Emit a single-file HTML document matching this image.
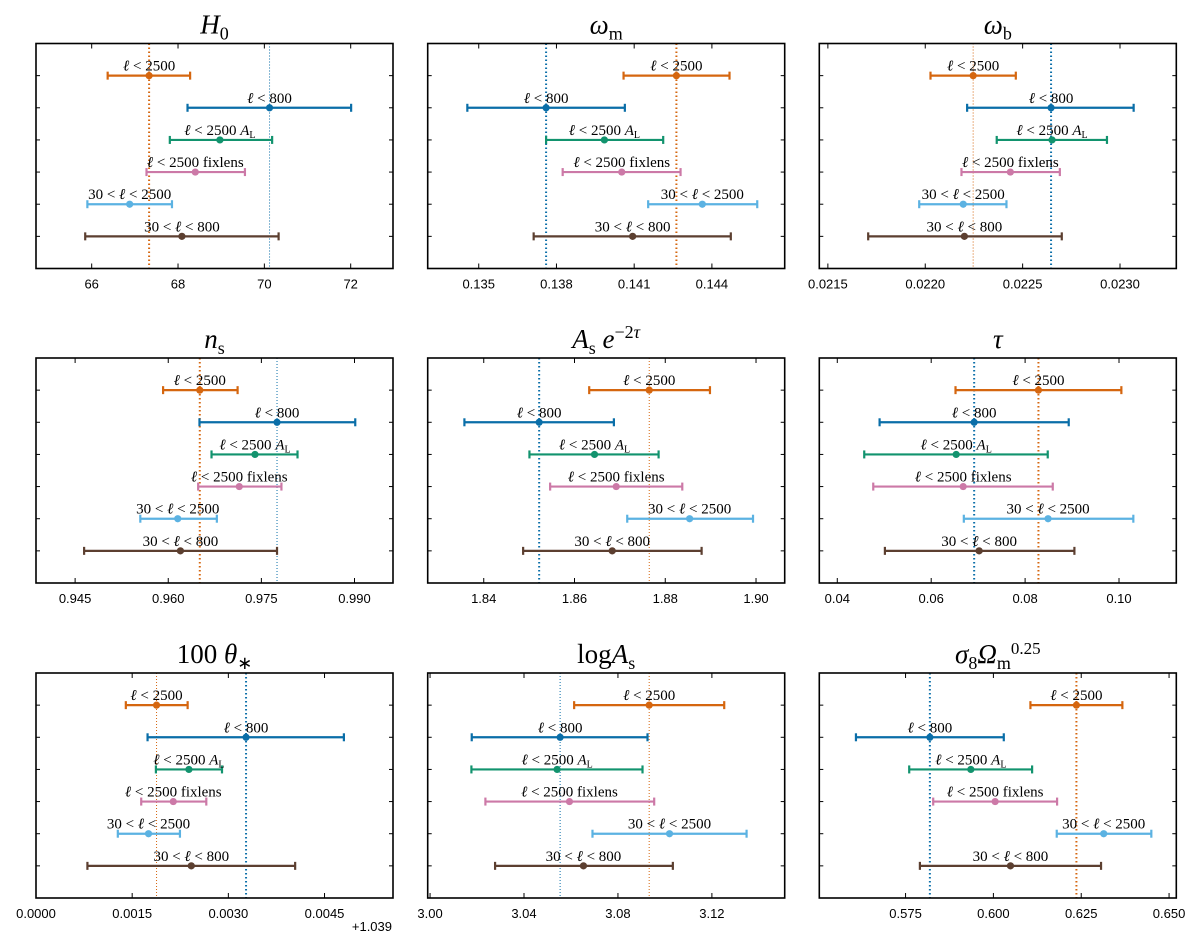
<!DOCTYPE html>
<html><head><meta charset="utf-8"><style>
body{margin:0;background:#fff;}
svg{display:block;}
.tl{font-family:"Liberation Sans",sans-serif;font-size:13px;fill:#000;}
.lab{font-family:"Liberation Serif",serif;font-size:15px;fill:#000;}
.ttl{font-family:"Liberation Serif",serif;font-size:27px;fill:#000;}
</style></head><body>
<svg id="fig" width="1200" height="947" viewBox="0 0 1200 947" xmlns="http://www.w3.org/2000/svg"></svg>
<script>
const seriesLabels=["l<2500","l<800","l<2500 AL","l<2500 fixlens","30<l<2500","30<l<800"];
const seriesColors=["#d5660f","#0a6ea8","#12936e","#cc79a7","#5bb2e2","#5c3f30"];

const h0Center=[67.33,70.12,68.97,68.40,66.88,68.09];
const h0Lo=[66.37,68.22,67.81,67.27,65.90,65.85];
const h0Hi=[68.28,72.01,70.18,69.55,67.86,70.33];
const h0Ref=[67.33,70.12];
const h0Ticks=[66,68,70,72];
const h0TickLabels=["66","68","70","72"];

const wmCenter=[0.14263,0.13760,0.13985,0.14052,0.14363,0.14094];
const wmLo=[0.14059,0.13456,0.13760,0.13824,0.14154,0.13712];
const wmHi=[0.14468,0.14064,0.14212,0.14279,0.14575,0.14473];
const wmRef=[0.14263,0.13760];
const wmTicks=[0.135,0.138,0.141,0.144];
const wmTickLabels=["0.135","0.138","0.141","0.144"];

const wbCenter=[0.022246,0.022646,0.022651,0.022437,0.022195,0.022201];
const wbLo=[0.022027,0.022215,0.022367,0.022186,0.021969,0.021707];
const wbHi=[0.022465,0.023070,0.022933,0.022691,0.022417,0.022701];
const wbRef=[0.022246,0.022646];
const wbTicks=[0.0215,0.0220,0.0225,0.0230];
const wbTickLabels=["0.0215","0.0220","0.0225","0.0230"];

const nsCenter=[0.96508,0.97752,0.97397,0.97144,0.96153,0.96196];
const nsLo=[0.95917,0.96503,0.96697,0.96482,0.95550,0.94645];
const nsHi=[0.97117,0.99012,0.98082,0.97823,0.96783,0.97752];
const nsRef=[0.96508,0.97752];
const nsTicks=[0.945,0.960,0.975,0.990];
const nsTickLabels=["0.945","0.960","0.975","0.990"];

const asCenter=[1.87647,1.85221,1.86441,1.86919,1.88537,1.86831];
const asLo=[1.86324,1.83574,1.85007,1.85463,1.87162,1.84868];
const asHi=[1.88985,1.86868,1.87853,1.88375,1.89934,1.88801];
const asRef=[1.87647,1.85221];
const asTicks=[1.84,1.86,1.88,1.90];
const asTickLabels=["1.84","1.86","1.88","1.90"];

const tauCenter=[0.08284,0.06915,0.06532,0.06681,0.08489,0.07021];
const tauLo=[0.06518,0.04901,0.04574,0.04766,0.06695,0.05014];
const tauHi=[0.10050,0.08929,0.08482,0.08589,0.10305,0.09050];
const tauRef=[0.08284,0.06915];
const tauTicks=[0.04,0.06,0.08,0.10];
const tauTickLabels=["0.04","0.06","0.08","0.10"];

const thCenter=[0.001880,0.003276,0.002385,0.002141,0.001755,0.002422];
const thLo=[0.001401,0.001740,0.001870,0.001641,0.001276,0.000802];
const thHi=[0.002365,0.004802,0.002901,0.002656,0.002245,0.004042];
const thRef=[0.001880,0.003276];
const thTicks=[0,0.0015,0.0030,0.0045];
const thTickLabels=["0.0000","0.0015","0.0030","0.0045"];

const laCenter=[3.09330,3.05538,3.05410,3.05936,3.10196,3.06532];
const laLo=[3.06135,3.01775,3.01761,3.02357,3.06916,3.02769];
const laHi=[3.12525,3.09259,3.09046,3.09543,3.13477,3.10338];
const laRef=[3.09330,3.05538];
const laTicks=[3.00,3.04,3.08,3.12];
const laTickLabels=["3.00","3.04","3.08","3.12"];

const s8Center=[0.62363,0.58192,0.59358,0.60050,0.63140,0.60486];
const s8Lo=[0.61054,0.56088,0.57604,0.58287,0.61803,0.57908];
const s8Hi=[0.63671,0.60296,0.61102,0.61813,0.64495,0.63064];
const s8Ref=[0.62363,0.58192];
const s8Ticks=[0.575,0.600,0.625,0.650];
const s8TickLabels=["0.575","0.600","0.625","0.650"];

const NS="http://www.w3.org/2000/svg";
const svg=document.getElementById('fig');
function mk(tag,attrs,parent){const e=document.createElementNS(NS,tag);for(const k in attrs)e.setAttribute(k,attrs[k]);(parent||svg).appendChild(e);return e;}

const panels=[
 {key:"h0",title:'<tspan font-style="italic">H</tspan><tspan font-size="18" dy="6">0</tspan>',c:h0Center,lo:h0Lo,hi:h0Hi,ref:h0Ref,ticks:h0Ticks,tl:h0TickLabels,dom:[64.71,72.98],col:0,row:0,refW:[2,1]},
 {key:"omega-m",title:'<tspan font-style="italic">ω</tspan><tspan font-size="18" dy="6">m</tspan>',c:wmCenter,lo:wmLo,hi:wmHi,ref:wmRef,ticks:wmTicks,tl:wmTickLabels,dom:[0.13303,0.14681],col:1,row:0,refW:[2,2]},
 {key:"omega-b",title:'<tspan font-style="italic">ω</tspan><tspan font-size="18" dy="6">b</tspan>',c:wbCenter,lo:wbLo,hi:wbHi,ref:wbRef,ticks:wbTicks,tl:wbTickLabels,dom:[0.021456,0.023289],col:2,row:0,refW:[1,2]},
 {key:"n-s",title:'<tspan font-style="italic">n</tspan><tspan font-size="18" dy="6">s</tspan>',c:nsCenter,lo:nsLo,hi:nsHi,ref:nsRef,ticks:nsTicks,tl:nsTickLabels,dom:[0.9387,0.9962],col:0,row:1,refW:[2,1]},
 {key:"as-exp-tau",title:'<tspan font-style="italic">A</tspan><tspan font-size="18" dy="6">s</tspan><tspan font-style="italic" dy="-6"> e</tspan><tspan font-size="18" dy="-10">−2</tspan><tspan font-size="18" font-style="italic">τ</tspan>',c:asCenter,lo:asLo,hi:asHi,ref:asRef,ticks:asTicks,tl:asTickLabels,dom:[1.82765,1.90632],col:1,row:1,refW:[1,2]},
 {key:"tau",title:'<tspan font-style="italic">τ</tspan>',c:tauCenter,lo:tauLo,hi:tauHi,ref:tauRef,ticks:tauTicks,tl:tauTickLabels,dom:[0.03617,0.1122],col:2,row:1,refW:[2,2]},
 {key:"theta-star",title:'100 <tspan font-style="italic">θ</tspan><tspan font-size="18" dy="6">∗</tspan>',c:thCenter,lo:thLo,hi:thHi,ref:thRef,ticks:thTicks,tl:thTickLabels,dom:[0,0.005568],col:0,row:2,refW:[1,2]},
 {key:"log-as",title:'log<tspan font-style="italic">A</tspan><tspan font-size="18" dy="6">s</tspan>',c:laCenter,lo:laLo,hi:laHi,ref:laRef,ticks:laTicks,tl:laTickLabels,dom:[2.999,3.151],col:1,row:2,refW:[1,1]},
 {key:"sigma8-omega-m",title:'<tspan font-style="italic">σ</tspan><tspan font-size="18" dy="6">8</tspan><tspan font-style="italic" dy="-6">Ω</tspan><tspan font-size="18" dy="6">m</tspan><tspan font-size="17" dy="-15">0.25</tspan>',c:s8Center,lo:s8Lo,hi:s8Hi,ref:s8Ref,ticks:s8Ticks,tl:s8TickLabels,dom:[0.55045,0.65206],col:2,row:2,refW:[2,2]}
];
const colX=[36,427.7,819.3], rowY=[43.5,358,673], PW=357, PH=225;
const labelHTML=[
 '<tspan font-style="italic">ℓ</tspan> &lt; 2500',
 '<tspan font-style="italic">ℓ</tspan> &lt; 800',
 '<tspan font-style="italic">ℓ</tspan> &lt; 2500 <tspan font-style="italic">A</tspan><tspan font-size="10" dy="3">L</tspan>',
 '<tspan font-style="italic">ℓ</tspan> &lt; 2500 fixlens',
 '30 &lt; <tspan font-style="italic">ℓ</tspan> &lt; 2500',
 '30 &lt; <tspan font-style="italic">ℓ</tspan> &lt; 800'];

panels.forEach(p=>{
 const x0=colX[p.col], y0=rowY[p.row];
 const g=mk('g',{});
 
 
 const xs=v=>x0+(v-p.dom[0])/(p.dom[1]-p.dom[0])*PW;
 const ys=i=>y0+(i+1)*PH/7;
 const t=mk('text',{x:x0+PW/2,y:y0-10,'text-anchor':'middle',class:'ttl'},g);
 t.innerHTML=p.title;
 
 
 p.ref.forEach((v,k)=>{
  const w=p.refW[k];
  const l=mk('line',{x1:xs(v),x2:xs(v),y1:y0,y2:y0+PH,stroke:k===0?seriesColors[0]:seriesColors[1],'stroke-width':w,'stroke-dasharray':w>1?'1.5 2.5':'1 2'},g);
  
  
 });
 p.c.forEach((cv,i)=>{
  const col=seriesColors[i], y=ys(i);
  const sg=mk('g',{},g);
  
  
  const a=xs(p.lo[i]), b=xs(p.hi[i]);
  mk('line',{x1:a,x2:b,y1:y,y2:y,stroke:col,'stroke-width':2.2},sg);
  mk('line',{x1:a,x2:a,y1:y-4,y2:y+4,stroke:col,'stroke-width':2.2},sg);
  mk('line',{x1:b,x2:b,y1:y-4,y2:y+4,stroke:col,'stroke-width':2.2},sg);
  mk('circle',{cx:xs(cv),cy:y,r:3.6,fill:col},sg);
  const tx=mk('text',{x:xs(cv),y:y-5,'text-anchor':'middle',class:'lab'},sg);
  tx.innerHTML=labelHTML[i];
  
  
 });
 for(let i=0;i<6;i++){
  mk('line',{x1:x0,x2:x0+4,y1:ys(i),y2:ys(i),stroke:'#000','stroke-width':1},g);
  mk('line',{x1:x0+PW-4,x2:x0+PW,y1:ys(i),y2:ys(i),stroke:'#000','stroke-width':1},g);
 }
 p.ticks.forEach((v,k)=>{
  const x=xs(v);
  mk('line',{x1:x,x2:x,y1:y0+PH,y2:y0+PH-5,stroke:'#000','stroke-width':1},g);
  mk('line',{x1:x,x2:x,y1:y0,y2:y0+5,stroke:'#000','stroke-width':1},g);
  const tl=mk('text',{x:x,y:y0+PH+20,'text-anchor':'middle',class:'tl'},g);
  tl.textContent=p.tl[k];
  
  
 });
 const fr=mk('rect',{x:x0,y:y0,width:PW,height:PH,fill:'none',stroke:'#000','stroke-width':1.6},g);
 
 
});
const off=mk('text',{x:392,y:931,'text-anchor':'end',class:'tl'});
off.textContent='+1.039';


</script>
</body></html>
